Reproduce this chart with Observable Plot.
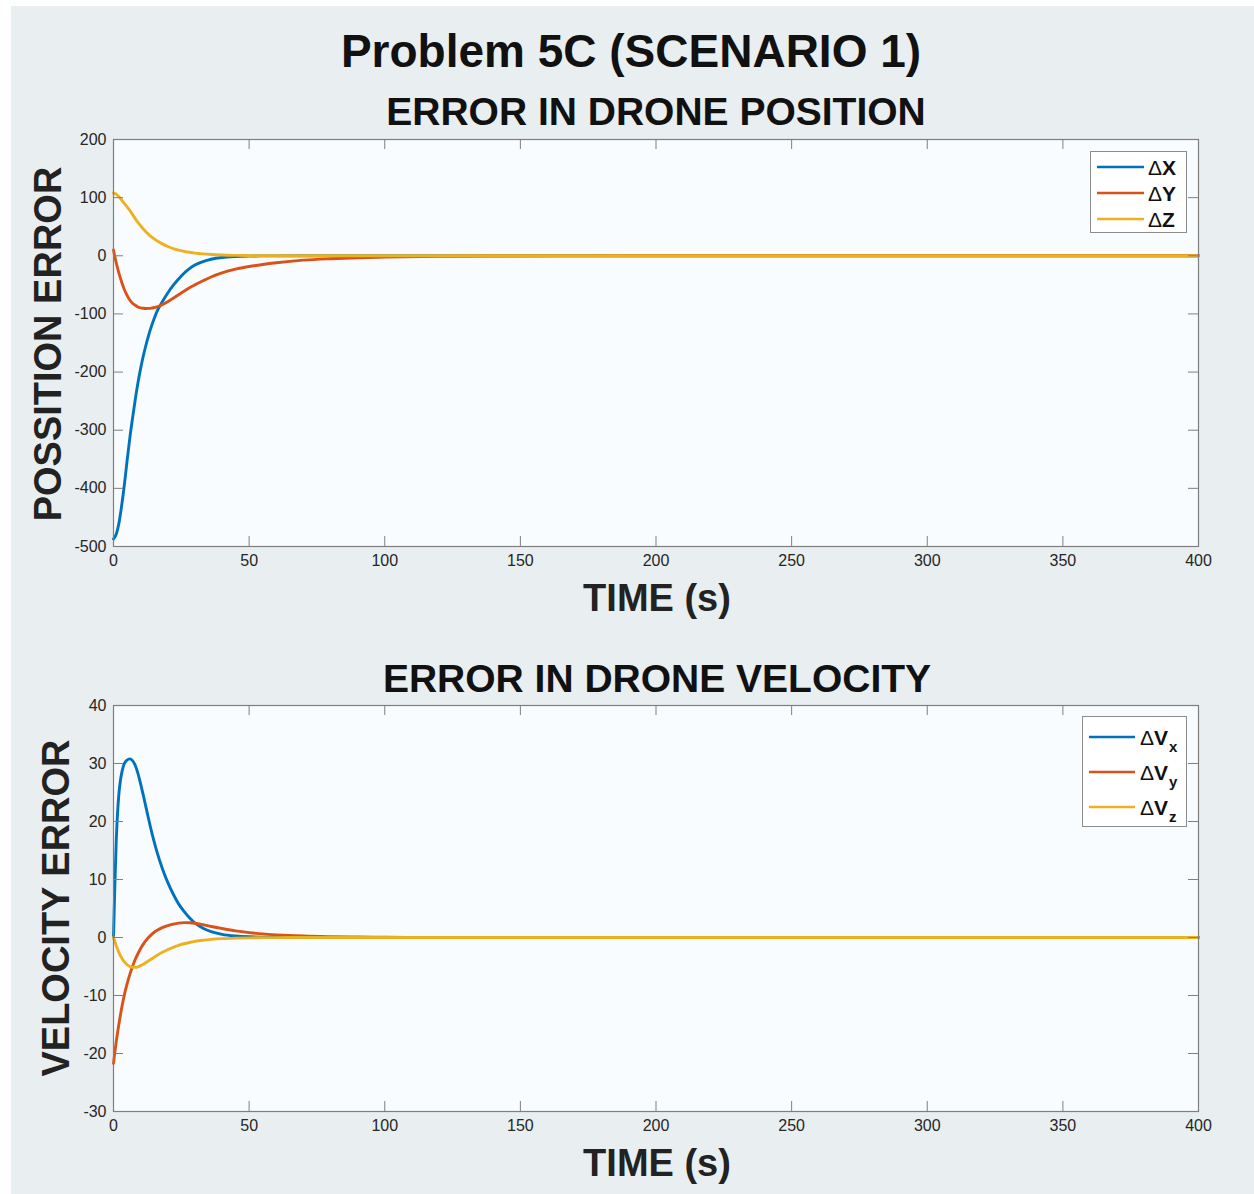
<!DOCTYPE html>
<html>
<head>
<meta charset="utf-8">
<script src="https://cdn.jsdelivr.net/npm/d3@7"></script>
<script src="https://cdn.jsdelivr.net/npm/@observablehq/plot@0.6"></script>
<style>
  body { margin: 0; background: #fff; }
  #page { position: relative; width: 1254px; height: 1194px; overflow: hidden; background: #fff;
          font-family: "Liberation Sans", Arial, Helvetica, sans-serif; color: #111; }
  .bg { position: absolute; left: 11px; top: 6px; right: 0; bottom: 0; background: #e9eef0; }
  .txt { position: absolute; white-space: nowrap; line-height: 1; font-weight: bold; }
  .hc { transform: translate(-50%, -50%); }
  .rot { transform: translate(-50%, -50%) rotate(-90deg); }
  .plot { position: absolute; left: 0; }
  .legend { position: absolute; box-sizing: border-box; border: 1px solid #8c8c8c; background: #ffffff; }
  .legend .row { position: absolute; left: 0; white-space: nowrap; line-height: 1; }
</style>
</head>
<body>
<div id="page">
  <div class="bg"></div>
  <div id="plotTop" class="plot" style="top:0px"></div>
  <div id="plotBot" class="plot" style="top:620px"></div>
  <div class="txt hc" style="left:631px; top:51px; font-size:46px;">Problem 5C (SCENARIO 1)</div>
  <div class="txt hc" style="left:656px; top:111px; font-size:39px;">ERROR IN DRONE POSITION</div>
  <div class="txt hc" style="left:657px; top:598px; font-size:38px; color:#222;">TIME (s)</div>
  <div class="txt rot" style="left:48px; top:344px; font-size:38px; color:#222;">POSSITION ERROR</div>
  <div class="txt hc" style="left:657px; top:678px; font-size:39px;">ERROR IN DRONE VELOCITY</div>
  <div class="txt hc" style="left:657px; top:1163px; font-size:38px; color:#222;">TIME (s)</div>
  <div class="txt rot" style="left:56px; top:908px; font-size:38px; color:#222;">VELOCITY ERROR</div>
  <div id="legTop" class="legend" style="left:1090px; top:151px; width:97px; height:82px;"></div>
  <div id="legBot" class="legend" style="left:1082px; top:716px; width:105px; height:111px;"></div>
</div>
<script>
// ---------- data ----------
const seriesColors = ["#0072BD", "#D95319", "#EDB120"];
const posNames = ["ΔX", "ΔY", "ΔZ"];
const velNames = ["ΔVx", "ΔVy", "ΔVz"];
const velBase = ["ΔV", "ΔV", "ΔV"];
const velSubs = ["x", "y", "z"];

const xTicks = [0, 50, 100, 150, 200, 250, 300, 350, 400];
const posTicks = [-500, -400, -300, -200, -100, 0, 100, 200];
const velTicks = [-30, -20, -10, 0, 10, 20, 30, 40];

const timePos = [0,1,2,3,4,5,6,7,8,9,10,11,12,13,14,15,16,18,20,22,24,26,28,30,33,36,40,45,50,55,60,70,80,90,100,120,140,170,200,250,300,350,400];
const posDX = [-487,-479,-460,-430,-394,-353,-314,-280,-248,-219,-194,-172,-153,-136,-121,-108,-96,-79,-64,-51,-40,-30,-22,-16,-10,-6,-3,-1.3,-0.5,-0.2,-0.1,0,0,0,0,0,0,0,0,0,0,0,0];
const posDY = [10,-12,-30,-45,-58,-68,-76,-81.5,-85,-88,-89.5,-90.3,-90.6,-90.5,-90,-89,-88,-84,-79,-73,-67,-61,-55,-50,-43,-36.5,-29.5,-23,-18.5,-15,-12,-7.5,-5,-3.3,-2.2,-1,-0.45,-0.15,-0.05,0,0,0,0];
const posDZ = [108,106,101.5,96,90,84,78,71,64,57.5,51.5,46,41,36.5,32.5,29,26,20.5,16,12.5,9.8,7.7,6,4.6,3.2,2.2,1.3,0.7,0.35,0.17,0.08,0.02,0,0,0,0,0,0,0,0,0,0,0];

const timeVel = [0,0.5,1,1.5,2,2.5,3,3.5,4,5,6,7,8,9,10,11,12,13,14,15,16,18,20,22,24,26,28,30,33,36,40,45,50,55,60,70,80,90,100,120,150,200,250,300,350,400];
const velDX = [0,9,16.5,21.5,24.8,26.9,28.3,29.3,30,30.6,30.8,30.5,29.7,28.3,26.5,24.5,22.4,20.3,18.3,16.5,14.8,11.9,9.5,7.5,5.8,4.5,3.4,2.5,1.6,1.0,0.55,0.27,0.13,0.06,0.03,0.01,0,0,0,0,0,0,0,0,0,0];
const velDY = [-21.7,-19.8,-18.0,-16.4,-14.9,-13.5,-12.2,-11.0,-9.9,-8.0,-6.4,-5.0,-3.8,-2.8,-1.9,-1.15,-0.5,0.05,0.5,0.9,1.2,1.7,2.05,2.3,2.48,2.57,2.55,2.45,2.2,1.9,1.55,1.15,0.85,0.62,0.46,0.26,0.15,0.08,0.045,0.015,0,0,0,0,0,0];
const velDZ = [0,-0.7,-1.4,-2.0,-2.6,-3.1,-3.5,-3.9,-4.2,-4.7,-5.0,-5.13,-5.15,-5.05,-4.85,-4.6,-4.3,-4.0,-3.7,-3.4,-3.1,-2.55,-2.1,-1.7,-1.35,-1.08,-0.86,-0.68,-0.48,-0.33,-0.2,-0.11,-0.06,-0.03,-0.015,0,0,0,0,0,0,0,0,0,0,0];

// ---------- build tables ----------
function longTable(times, series, names) {
  const rows = [];
  series.forEach((arr, k) => times.forEach((t, i) => rows.push({t, v: arr[i], s: names[k]})));
  return rows;
}
const posRows = longTable(timePos, [posDX, posDY, posDZ], posNames);
const velRows = longTable(timeVel, [velDX, velDY, velDZ], velNames);

const W = 1254, ML = 113, MR = 56;
const innerW = W - ML - MR;
const TICK = 10;
const axisColor = "#7f7f7f";

function makePlot({height, marginTop, marginBottom, yDomain, yTicks, rows, names}) {
  const innerH = height - marginTop - marginBottom;
  return Plot.plot({
    width: W, height, marginLeft: ML, marginRight: MR, marginTop, marginBottom,
    style: {background: "transparent", fontFamily: "'Liberation Sans', Arial, Helvetica, sans-serif", fontSize: "16px", color: "#262626", overflow: "visible"},
    x: {domain: [0, 400]},
    y: {domain: yDomain},
    color: {domain: names, range: seriesColors},
    marks: [
      Plot.frame({fill: "#f8fcfe", stroke: null}),
      Plot.line(rows, {x: "t", y: "v", z: "s", stroke: "s", strokeWidth: 2.9, curve: "monotone-x"}),
      Plot.frame({stroke: axisColor, strokeWidth: 1.2}),
      Plot.tickX(xTicks, {x: d => d, insetTop: innerH - TICK, stroke: axisColor}),
      Plot.tickX(xTicks, {x: d => d, insetBottom: innerH - TICK, stroke: axisColor}),
      Plot.tickY(yTicks, {y: d => d, insetRight: innerW - TICK, stroke: axisColor}),
      Plot.tickY(yTicks, {y: d => d, insetLeft: innerW - TICK, stroke: axisColor}),
      Plot.axisX(xTicks, {tickSize: 0, tickPadding: 8, tickFormat: d => String(d), label: null, fontSize: 16}),
      Plot.axisY(yTicks, {tickSize: 0, tickPadding: 7, tickFormat: d => String(d), label: null, fontSize: 16})
    ]
  });
}

document.getElementById("plotTop").append(makePlot({
  height: 620, marginTop: 139, marginBottom: 74,
  yDomain: [-500, 200], yTicks: posTicks, rows: posRows, names: posNames
}));
document.getElementById("plotBot").append(makePlot({
  height: 574, marginTop: 85, marginBottom: 83,
  yDomain: [-30, 40], yTicks: velTicks, rows: velRows, names: velNames
}));

// ---------- legends ----------
function buildLegend(el, {rowY, lineX0, lineX1, textX, fontSize, labels}) {
  labels.forEach((lab, k) => {
    const row = document.createElement("div");
    row.className = "row";
    row.style.top = (rowY[k] - 12) + "px";
    row.style.height = "24px";
    row.style.width = "100%";
    row.innerHTML =
      `<svg width="${lineX1 + 2}" height="24" style="position:absolute;left:0;top:0">` +
      `<line x1="${lineX0}" x2="${lineX1}" y1="12" y2="12" stroke="${seriesColors[k]}" stroke-width="2.4"/></svg>` +
      `<span style="position:absolute;left:${textX}px;top:${12 - fontSize / 2}px;font-size:${fontSize}px;line-height:1;color:#111;">${lab}</span>`;
    el.append(row);
  });
}
buildLegend(document.getElementById("legTop"), {
  rowY: [15, 41, 67], lineX0: 6, lineX1: 53, textX: 57, fontSize: 21,
  labels: posNames.map(n => `<span style="font-weight:normal">${n[0]}</span><b>${n.slice(1)}</b>`)
});
buildLegend(document.getElementById("legBot"), {
  rowY: [20, 55, 90], lineX0: 6, lineX1: 52, textX: 57, fontSize: 21,
  labels: velBase.map((b, k) => `<span style="font-weight:normal">${b[0]}</span><b>${b.slice(1)}</b><b style="font-size:15px;position:relative;top:7px;margin-left:1px;">${velSubs[k]}</b>`)
});
</script>
</body>
</html>
